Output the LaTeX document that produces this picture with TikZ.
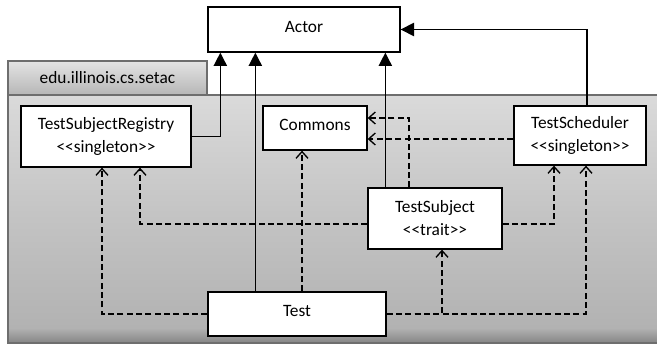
\documentclass[tikz,border=0pt]{standalone}
\usepackage{fontspec}
\setmainfont{Carlito}[Ligatures=TeXOff]
\usetikzlibrary{arrows.meta}
\definecolor{pkgtop}{HTML}{DADADA}
\definecolor{pkgmid}{HTML}{C3C3C3}
\definecolor{pkglow}{HTML}{B2B2B2}
\definecolor{pkgdark}{HTML}{858585}
\definecolor{tabtop}{HTML}{E4E4E4}
\definecolor{tablow}{HTML}{B6B6B6}
\definecolor{pkgline}{HTML}{6E6E6E}
\pgfdeclareverticalshading{pkgbody}{100bp}{color(0bp)=(pkgdark); color(25bp)=(pkgdark); color(28bp)=(pkglow); color(50bp)=(pkgmid); color(75bp)=(pkgtop); color(100bp)=(pkgtop)}
\pgfdeclareverticalshading{pkgtab}{100bp}{color(0bp)=(tablow); color(25bp)=(tablow); color(75bp)=(tabtop); color(100bp)=(tabtop)}
\def\pxu{.75pt}
\tikzset{
  klass/.style={draw,fill=white,line width=1pt,align=center,inner sep=0pt,font=\fontsize{13}{17.25}\selectfont},
  oneline/.style={text depth=4.5pt},
  inherit/.style={line width=1pt,-{Triangle[width=10pt,length=10pt]}},
  use/.style={line width=1pt,dash pattern=on 4.5pt off 2.5pt,-{Straight Barb[width=9pt,length=5pt]}},
}

\begin{document}
\begin{tikzpicture}[x=\pxu,y=-\pxu]
      \useasboundingbox (0,0) rectangle (657,345);
      \shade[shading=pkgbody] (8,95) rectangle (657,343);
      \draw[pkgline,line width=.8pt] (657,95) -- (8,95) -- (8,343) -- (657,343);
      \node[shading=pkgtab,draw=pkgline,line width=.8pt,minimum width=199*\pxu,minimum height=34*\pxu,font=\fontsize{13}{15}\selectfont] at (107.5,78) (pkg) {edu.illinois.cs.setac};
      \node[klass,oneline,minimum width=192*\pxu,minimum height=45*\pxu] at (304,29.5) (actor) {Actor};
      \node[klass,minimum width=170*\pxu,minimum height=61*\pxu] at (106,136.5) (reg) {TestSubjectRegistry\\<<singleton>>};
      \node[klass,oneline,minimum width=104*\pxu,minimum height=44*\pxu] at (315,128) (commons) {Commons};
      \node[klass,minimum width=132*\pxu,minimum height=59*\pxu] at (580,135.5) (sched) {TestScheduler\\<<singleton>>};
      \node[klass,minimum width=134*\pxu,minimum height=61*\pxu] at (435,218.5) (subj) {TestSubject\\<<trait>>};
      \node[klass,oneline,minimum width=178*\pxu,minimum height=44*\pxu] at (297,314) (test) {Test};
      \draw[inherit] (reg.east) -| ([xshift=13*\pxu]actor.south west);
      \draw[inherit] ([xshift=48*\pxu]test.north west) -- ([xshift=48*\pxu]actor.south west);
      \draw[inherit] ([xshift=18*\pxu]subj.north west) coordinate (s1) -- (s1 |- actor.south);
      \draw[inherit] ([xshift=7*\pxu]sched.north) |- (actor.east);
      \draw[use] ([xshift=-26*\pxu]subj.north) |- ([yshift=10*\pxu]commons.east);
      \path ([yshift=-11*\pxu]commons.east) coordinate (c2);
      \draw[use] (c2 -| sched.west) -- (c2);
      \draw[use] ([xshift=5*\pxu]test.north) coordinate (t1) -- (t1 |- commons.south);
      \draw[use] ([yshift=-5.5*\pxu]subj.west) -| ([xshift=34*\pxu]reg.south);
      \draw[use] (test.west) -| ([xshift=-4*\pxu]reg.south);
      \draw[use] ([yshift=-5.5*\pxu]subj.east) -| ([xshift=-26*\pxu]sched.south);
      \draw[use] (test.east) -| ([xshift=7*\pxu]subj.south);
      \draw[use] (test.east) -| ([xshift=6*\pxu]sched.south);
\end{tikzpicture}
\end{document}
